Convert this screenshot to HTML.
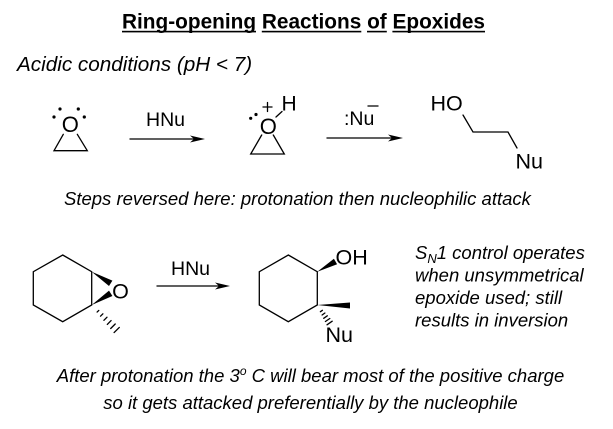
<!DOCTYPE html>
<html><head><meta charset="utf-8"><style>
html,body{margin:0;padding:0;background:#fff;}
svg{display:block;}
text{font-family:"Liberation Sans",Arial,sans-serif;fill:#000;}
</style></head><body>
<svg width="613" height="429" viewBox="0 0 613 429" xmlns="http://www.w3.org/2000/svg">
<rect width="613" height="429" fill="#fff"/>
<!-- Title -->
<text x="122" y="28.5" font-size="20.8" font-weight="bold" textLength="363" lengthAdjust="spacingAndGlyphs">Ring-opening Reactions of Epoxides</text>
<g fill="#000">
<rect x="122" y="30.8" width="134" height="1.6"/>
<rect x="261.8" y="30.8" width="99.5" height="1.6"/>
<rect x="367" y="30.8" width="19.8" height="1.6"/>
<rect x="392.4" y="30.8" width="92.6" height="1.6"/>
</g>
<text x="17" y="71" font-size="20.7" font-style="italic">Acidic conditions (pH &lt; 7)</text>

<g stroke="#000" stroke-width="1.3" fill="none" stroke-linecap="round">
<!-- epoxide 1 -->
<polyline points="63.3,134.3 54,150.7 87.3,150.7 77.3,134.3"/>
<!-- epoxide 2 -->
<polyline points="261.7,135 250.7,154 284.3,154 273.3,135"/>
<line x1="276" y1="117" x2="282" y2="111.5"/>
<line x1="263" y1="107" x2="272" y2="107"/>
<line x1="267.5" y1="102.5" x2="267.5" y2="111.5"/>
<line x1="368" y1="106" x2="378" y2="106"/>
<!-- HO-CH2-CH2-Nu -->
<polyline points="463,115 473,132 508,132 517,148"/>
<!-- arrows -->
<line x1="130" y1="139" x2="197" y2="139"/>
<line x1="327" y1="138" x2="395" y2="138"/>
<line x1="157" y1="286" x2="222" y2="286"/>
<!-- left cyclohexane -->
<polygon points="62.7,255 91.7,271.7 91.7,305 62.7,321.7 33.3,305 33.3,271.7"/>
<!-- right cyclohexane -->
<polygon points="288.3,255 317.3,271.7 317.3,305 288.3,321.7 259.3,305 259.3,271.7"/>
<!-- hashes left -->
<line x1="97.1" y1="312.1" x2="98.8" y2="310.4"/>
<line x1="100.5" y1="316.2" x2="102.9" y2="313.8"/>
<line x1="103.9" y1="320.3" x2="107.0" y2="317.2"/>
<line x1="107.3" y1="324.4" x2="111.1" y2="320.6"/>
<line x1="110.7" y1="328.5" x2="115.2" y2="324.0"/>
<line x1="114.1" y1="332.6" x2="119.3" y2="327.4"/>
<!-- hashes right -->
<line x1="320.4" y1="311.7" x2="322.4" y2="310.3"/>
<line x1="322.1" y1="315" x2="324.9" y2="313"/>
<line x1="323.7" y1="318.3" x2="327.3" y2="315.8"/>
<line x1="325.4" y1="321.5" x2="329.8" y2="318.5"/>
<line x1="327" y1="324.8" x2="332.2" y2="321.2"/>
</g>
<g fill="#000">
<!-- arrowheads -->
<polygon points="205,139 190,135.5 194,139 190,142.5"/>
<polygon points="403,138 388,134.5 392,138 388,141.5"/>
<polygon points="230,286 215,282.5 219,286 215,289.5"/>
<!-- lone pairs -->
<circle cx="60" cy="109" r="1.6"/>
<circle cx="78.3" cy="109" r="1.6"/>
<circle cx="54" cy="117" r="1.6"/>
<circle cx="84.3" cy="117" r="1.6"/>
<circle cx="250.7" cy="118.3" r="1.6"/>
<circle cx="256" cy="114.5" r="1.6"/>
<!-- wedges -->
<polygon points="91.7,271.7 109,286 112.4,280.6"/>
<polygon points="91.7,305 112.4,296 109,290.6"/>
<polygon points="317.3,271.7 337.1,264.3 333.9,258.7"/>
<polygon points="317.3,305 350,302.5 350,308.5"/>
</g>

<!-- chem labels -->
<text x="70.3" y="132" font-size="22" text-anchor="middle">O</text>
<text x="146" y="126" font-size="19.5">HNu</text>
<text x="268.3" y="134" font-size="22" text-anchor="middle">O</text>
<text x="281.5" y="110.5" font-size="21">H</text>
<text x="344" y="125" font-size="19.5">:Nu</text>
<text x="430.5" y="110.5" font-size="21.5">HO</text>
<text x="515.5" y="168.5" font-size="21.5">Nu</text>

<text x="64" y="205" font-size="18.5" font-style="italic">Steps reversed here: protonation then nucleophilic attack</text>

<text x="120.5" y="298.5" font-size="21.5" text-anchor="middle">O</text>
<text x="171" y="275" font-size="19.5">HNu</text>
<text x="335.5" y="264.5" font-size="21.5">OH</text>
<text x="325.5" y="342" font-size="21.5">Nu</text>

<g font-size="18.5" font-style="italic">
<text x="415" y="259">S<tspan font-size="13" dy="4">N</tspan><tspan dy="-4">1 control operates</tspan></text>
<text x="415" y="281.5">when unsymmetrical</text>
<text x="415" y="304">epoxide used; still</text>
<text x="415" y="326.5">results in inversion</text>
<text x="310.5" y="382" text-anchor="middle">After protonation the 3<tspan font-size="12" dy="-7">o</tspan><tspan dy="7"> C will bear most of the positive charge</tspan></text>
<text x="310.5" y="409" text-anchor="middle">so it gets attacked preferentially by the nucleophile</text>
</g>
</svg>
</body></html>
